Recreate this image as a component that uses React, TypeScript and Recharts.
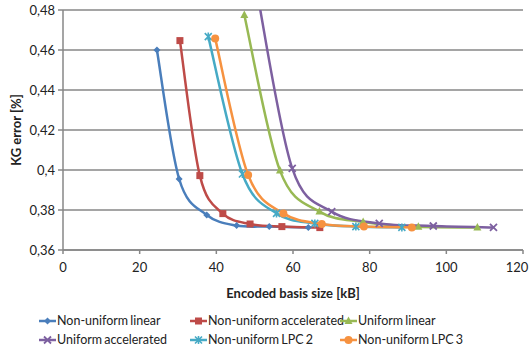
import { CartesianGrid, Label, Line, LineChart, XAxis, YAxis } from "recharts";

// values (x in kB, y in %)
const nuLinearX = [24.5, 30.3, 37.5, 45.3, 53.8, 64.0];
const nuLinearY = [0.46, 0.3955, 0.3775, 0.3722, 0.3717, 0.3712];
const nuAccelX = [30.5, 35.7, 41.7, 48.8, 57.1, 67.0];
const nuAccelY = [0.4647, 0.3972, 0.3782, 0.373, 0.3717, 0.3712];
const uLinearX = [47.3, 56.6, 66.9, 78.3, 92.7, 108.1];
const uLinearY = [0.4775, 0.3997, 0.3792, 0.374, 0.3716, 0.3713];
const uAccelX = [50.7, 59.8, 70.1, 82.5, 96.6, 112.3];
const uAccelY = [0.488, 0.4008, 0.3792, 0.3733, 0.372, 0.3713];
const lpc2X = [37.9, 46.8, 55.7, 65.7, 76.4, 88.4];
const lpc2Y = [0.4667, 0.398, 0.3783, 0.3733, 0.3717, 0.3713];
const lpc3X = [39.7, 48.3, 57.5, 67.5, 78.5, 91.0];
const lpc3Y = [0.4658, 0.3975, 0.3783, 0.373, 0.3717, 0.3713];

const xTicks = [0, 20, 40, 60, 80, 100, 120];
const yTicks = [0.36, 0.38, 0.4, 0.42, 0.44, 0.46, 0.48];

type Shape = "diamond" | "square" | "triangle" | "x" | "star" | "circle";

const zip = (xs: number[], ys: number[]) => xs.map((x, i) => ({ x, y: ys[i] }));

const SERIES: { name: string; color: string; shape: Shape; data: { x: number; y: number }[] }[] = [
  { name: "Non-uniform linear", color: "#4a7ebb", shape: "diamond", data: zip(nuLinearX, nuLinearY) },
  { name: "Non-uniform accelerated", color: "#be4b48", shape: "square", data: zip(nuAccelX, nuAccelY) },
  { name: "Uniform linear", color: "#98b954", shape: "triangle", data: zip(uLinearX, uLinearY) },
  { name: "Uniform accelerated", color: "#7d60a0", shape: "x", data: zip(uAccelX, uAccelY) },
  { name: "Non-uniform LPC 2", color: "#46aac5", shape: "star", data: zip(lpc2X, lpc2Y) },
  { name: "Non-uniform LPC 3", color: "#f69240", shape: "circle", data: zip(lpc3X, lpc3Y) },
];

const FONT = "Lato, 'Liberation Sans', sans-serif";

// Excel-style smoothed line: Catmull-Rom through the points, as bezier segments
function excelSmooth(context: any) {
  let pts: [number, number][] = [];
  return {
    areaStart() {},
    areaEnd() {},
    lineStart() {
      pts = [];
    },
    point(x: number, y: number) {
      pts.push([x, y]);
    },
    lineEnd() {
      if (!pts.length) return;
      context.moveTo(pts[0][0], pts[0][1]);
      for (let i = 0; i < pts.length - 1; i++) {
        const p0 = pts[i - 1] ?? pts[i];
        const p1 = pts[i];
        const p2 = pts[i + 1];
        const p3 = pts[i + 2] ?? p2;
        context.bezierCurveTo(
          p1[0] + (p2[0] - p0[0]) / 6,
          p1[1] + (p2[1] - p0[1]) / 6,
          p2[0] - (p3[0] - p1[0]) / 6,
          p2[1] - (p3[1] - p1[1]) / 6,
          p2[0],
          p2[1],
        );
      }
    },
  };
}

function Marker({ cx, cy, color, shape }: { cx: number; cy: number; color: string; shape: Shape }) {
  if (cx == null || cy == null) return null;
  switch (shape) {
    case "diamond":
      return <path d={`M${cx},${cy - 3.5}L${cx + 3.5},${cy}L${cx},${cy + 3.5}L${cx - 3.5},${cy}Z`} fill={color} />;
    case "square":
      return <rect x={cx - 3.5} y={cy - 3.5} width={7} height={7} fill={color} />;
    case "triangle":
      return <path d={`M${cx},${cy - 4.5}L${cx + 4},${cy + 3}L${cx - 4},${cy + 3}Z`} fill={color} />;
    case "x":
      return (
        <path d={`M${cx - 3.5},${cy - 3.5}L${cx + 3.5},${cy + 3.5}M${cx + 3.5},${cy - 3.5}L${cx - 3.5},${cy + 3.5}`} stroke={color} strokeWidth={1.8} />
      );
    case "star":
      return (
        <path
          d={`M${cx - 3.5},${cy - 3.5}L${cx + 3.5},${cy + 3.5}M${cx + 3.5},${cy - 3.5}L${cx - 3.5},${cy + 3.5}M${cx},${cy - 4}L${cx},${cy + 4}`}
          stroke={color}
          strokeWidth={1.6}
        />
      );
    default:
      return <circle cx={cx} cy={cy} r={4} fill={color} />;
  }
}

const fmtY = (v: number) => String(+v.toFixed(2)).replace(".", ",");

// x tick labels; the last one is nudged left so it stays inside the picture
function XTick({ x, y, payload }: any) {
  const shift = payload.value === 120 ? -3 : 0;
  return (
    <text x={x + shift} y={y} dy="0.71em" textAnchor="middle" fontSize={13} fill="#222" fontFamily={FONT}>
      {payload.value}
    </text>
  );
}

function LegendItem({ name, color, shape, left, top }: { name: string; color: string; shape: Shape; left: number; top: number }) {
  return (
    <div style={{ position: "absolute", left, top, display: "flex", alignItems: "center", whiteSpace: "nowrap" }}>
      <svg width={17} height={12}>
        <line x1={0} y1={6} x2={17} y2={6} stroke={color} strokeWidth={2.5} />
        <Marker cx={8.5} cy={6} color={color} shape={shape} />
      </svg>
      <span style={{ fontSize: 12.5, color: "#222", marginLeft: 1, wordSpacing: -1 }}>{name}</span>
    </div>
  );
}

const legendPos = [
  [39, 313],
  [190, 313],
  [340, 313],
  [39, 332],
  [190, 332],
  [340, 332],
];

export default function App() {
  return (
    <div style={{ position: "absolute", left: 0, top: 0, width: 532, height: 351, background: "#fff", fontFamily: FONT }}>
      <LineChart width={532} height={351} margin={{ top: 10, right: 9, bottom: 51, left: 0 }}>
        <CartesianGrid horizontal vertical={false} stroke="#878787" strokeWidth={1.5} />
        <XAxis
          type="number"
          dataKey="x"
          domain={[0, 120]}
          ticks={xTicks}
          height={50}
          stroke="#878787"
          strokeWidth={1.5}
          tickSize={4}
          tickMargin={9}
          tick={<XTick />}
        >
          <Label value="Encoded basis size [kB]" position="insideBottom" offset={2} style={{ fontSize: 13, fontWeight: 700, fill: "#222", fontFamily: FONT }} />
        </XAxis>
        <YAxis
          type="number"
          domain={[0.36, 0.48]}
          ticks={yTicks}
          allowDataOverflow
          width={63}
          stroke="#878787"
          strokeWidth={1.5}
          tickSize={5}
          tickMargin={3}
          tickFormatter={fmtY}
          tick={{ fontSize: 13, fill: "#222", fontFamily: FONT }}
        >
          <Label
            value="KG error [%]"
            angle={-90}
            position="insideLeft"
            offset={16}
            style={{ fontSize: 13, fontWeight: 700, fill: "#222", textAnchor: "middle", fontFamily: FONT }}
          />
        </YAxis>
        {SERIES.map((s) => (
          <Line
            key={s.name}
            data={s.data}
            dataKey="y"
            name={s.name}
            type={excelSmooth as any}
            stroke={s.color}
            strokeWidth={2.5}
            dot={(p: any) => <Marker key={`${s.name}-${p.index}`} cx={p.cx} cy={p.cy} color={s.color} shape={s.shape} />}
            activeDot={false}
            isAnimationActive={false}
          />
        ))}
      </LineChart>
      {SERIES.map((s, k) => (
        <LegendItem key={s.name} {...s} left={legendPos[k][0]} top={legendPos[k][1]} />
      ))}
    </div>
  );
}
